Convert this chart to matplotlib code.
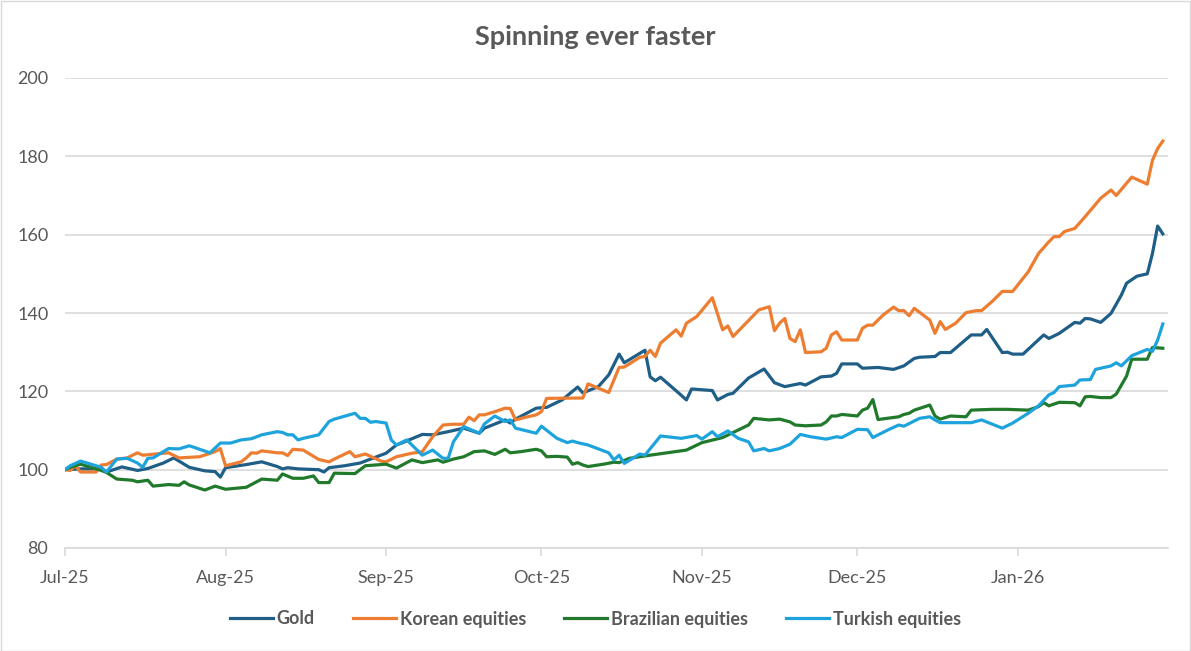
import matplotlib
matplotlib.use("Agg")
import matplotlib.pyplot as plt
import matplotlib.dates as mdates
import pandas as pd
from matplotlib.patches import Rectangle

# x values are days after 1 Jul 2025
start = pd.Timestamp("2025-07-01")

gold_days = [0, 3, 7, 8, 11, 14, 16, 19, 21, 24, 27, 29, 30, 31, 35, 38, 41, 42, 43, 45, 49, 50, 51, 54, 57, 62, 64, 65,
             69, 71, 74, 77, 80, 81, 85, 86, 87, 91, 93, 96, 99, 100, 103, 105, 107, 108, 112, 113, 114, 115, 119, 120,
             121, 125, 126, 128, 129, 132, 135, 137, 139, 142, 143, 146, 148, 149, 150, 153, 154, 157, 160, 162, 164,
             165, 168, 169, 171, 175, 177, 178, 181, 182, 183, 185, 189, 190, 192, 195, 196, 197, 198, 200, 202, 204,
             205, 207, 209, 210, 211, 212]
gold = [100, 100.2, 100.2, 99.4, 100.7, 99.8, 100.3, 101.7, 103, 100.6, 99.7, 99.5, 98.1, 100.5, 101.3, 102, 100.8,
        100.2, 100.5, 100.2, 100, 99.4, 100.5, 101, 101.7, 104.2, 106.3, 106.8,
        109, 108.9, 109.7, 110.6, 109.3, 110.6, 112.7, 111.9, 112.9, 115.7, 115.9, 117.8, 121.1, 119.6, 121.2, 124.2,
        129.5, 127.3, 130.5, 123.7, 122.7, 123.6, 119, 117.8,
        120.6, 120.2, 117.8, 119.2, 119.5, 123.4, 125.7, 122.2, 121.2, 122, 121.6, 123.7, 123.9, 124.6, 127, 127, 125.9,
        126.1, 125.6, 126.5, 128.4,
        128.7, 128.9, 129.9, 129.9, 134.4, 134.4, 135.8, 129.9, 130, 129.5, 129.5, 134.4, 133.5, 134.8, 137.6, 137.4,
        138.6, 138.5, 137.6, 139.9, 144.6,
        147.6, 149.4, 150, 155.2, 162.2, 160.2]

korea_days = [0, 1, 2, 3, 6, 7, 8, 10, 12, 14, 15, 20, 22, 26, 29, 30, 31, 34, 35, 36, 37, 38, 41, 42, 43, 44, 46, 49,
              51, 52, 55, 56, 58, 61, 62, 64, 67, 69, 71, 73, 75, 77, 78, 79, 80, 81, 83, 85, 86, 87, 89, 91, 92, 93,
              100, 101, 105, 107, 108, 111, 112, 113, 114, 115, 118, 119, 120, 122, 125, 127, 128, 129, 134, 136, 137,
              138, 139, 140, 141, 142, 143, 146, 147, 148, 149, 150, 153, 154, 155, 156, 158, 160, 161, 162, 163, 164,
              167, 168, 169, 170, 172, 174, 176, 177, 179, 181, 183, 186, 188, 190, 191, 192, 193, 195, 197, 200, 202,
              203, 206, 209, 210, 211, 212]
korea = [100, 99.8, 101, 99.4, 99.4, 101.2, 101.3, 102.7, 103, 104.3, 103.7, 104.3, 103, 103.3, 104.6, 105.4, 101, 102,
         103, 104.3, 104.2, 104.8, 104.3, 104.3, 103.6, 105.2, 105, 102.6,
         102, 102.7, 104.6, 103.3, 104, 102.2, 102, 103.3, 104.2, 104.6, 108.4, 111.4, 111.6, 111.6, 113.4, 112.5, 114,
         114, 114.8, 115.7, 115.6, 112.7, 113.4, 114, 114.8, 118.2,
         118.3, 121.9, 119.7, 126.1, 126.2, 128.7, 128.9, 130.5, 128.9, 132.3, 135.7, 134.1, 137.4, 139.1, 143.9, 135.7,
         136.7, 134, 140.8, 141.6, 135.5,
         137.4, 138.6, 133.5, 132.7, 135.7, 129.9, 130.1, 131, 134.4, 135.2, 133.1, 133.1, 136.1, 136.9, 136.9, 139.5,
         141.5, 140.6, 140.6, 139.3, 141.2,
         138.2, 134.8, 137.8, 135.8, 137.4, 140.1, 140.6, 140.6, 142.9, 145.5, 145.5, 150.5, 155.2, 158.2, 159.5, 159.5,
         160.8, 161.6, 164.6, 169.3, 171.4,
         170, 174.7, 172.9, 179, 182, 183.9]

brazil_days = [0, 1, 3, 7, 8, 10, 13, 14, 16, 17, 20, 22, 23, 24, 27, 29, 31, 35, 38, 41, 42, 44, 46, 48, 49, 51, 52, 56,
               58, 62, 64, 67, 69, 72, 73, 75, 77, 79, 81, 83, 85, 86, 88, 91, 92, 93, 95, 97, 98, 99, 100, 101, 104,
               106, 107, 109, 113, 120, 123, 127, 132, 133, 136, 138, 140, 141, 143, 146, 147, 148, 149, 150, 153, 154,
               155, 156, 157, 161, 162, 163, 164, 167, 168, 169, 171, 174, 175, 179, 182, 186, 188, 189, 190, 192, 195,
               196, 197, 198, 200, 202, 203, 205, 206, 209, 210, 212]
brazil = [100, 100.6, 101.4, 99.8, 99.3, 97.6, 97.3, 96.9, 97.3, 95.8, 96.2, 96, 96.9, 96.1, 94.8, 95.8, 95, 95.5, 97.6,
          97.3, 98.9, 97.8, 97.8, 98.4, 96.7, 96.7, 99.1, 99,
          101, 101.4, 100.4, 102.5, 101.8, 102.5, 101.9, 102.7, 103.3, 104.6, 104.8, 103.9, 105.2, 104.3, 104.6, 105.2,
          104.8, 103.3, 103.4, 103.2, 101.4, 101.8, 101.2, 100.8, 101.4,
          101.9, 101.8, 102.9, 103.7, 105, 106.9, 108.2, 111.4, 113.1, 112.7, 112.9, 112.2, 111.4, 111.2, 111.4, 112.2,
          113.7, 113.7, 114.1, 113.7, 115.2,
          115.7, 117.9, 112.8, 113.5, 114.1, 114.4, 115.2, 116.5, 113.7, 112.9, 113.7, 113.5, 115.2, 115.4, 115.4, 115.2,
          116.1, 117.1, 116.3, 117.2, 117.1,
          116.3, 118.6, 118.7, 118.4, 118.4, 119.3, 123.9, 128.2, 128.2, 131.2, 131]

turkey_days = [0, 1, 3, 7, 8, 10, 12, 14, 15, 16, 17, 20, 22, 24, 28, 30, 32, 34, 36, 38, 41, 42, 43, 44, 45, 46, 49, 51,
               52, 56, 57, 58, 59, 60, 62, 63, 64, 66, 69, 71, 73, 74, 75, 77, 80, 81, 83, 85, 86, 87, 91, 92, 95, 97,
               98, 99, 101, 105, 106, 107, 108, 111, 112, 115, 119, 122, 123, 125, 126, 128, 130, 132, 133, 135, 136,
               138, 140, 142, 144, 147, 149, 150, 153, 155, 156, 159, 161, 162, 165, 167, 168, 169, 175, 177, 181, 183,
               186, 188, 190, 191, 192, 195, 196, 198, 199, 202, 203, 204, 206, 209, 210, 211, 212]
turkey = [100, 101, 102.2, 100.6, 99.4, 102.7, 102.9, 101.7, 100.6, 102.9, 103, 105.4, 105.3, 106.1, 104.3, 106.8, 106.8,
          107.6, 107.9, 108.9, 109.7, 109.5, 108.9, 108.9, 107.6, 108, 108.9, 112.3,
          112.9, 114.4, 113.1, 113.1, 112.1, 112.3, 111.9, 107.6, 106.3, 107.6, 103.7, 105, 102.9, 102.9, 107.1, 111,
          109.3, 111.7, 113.7, 112.3, 112.7, 110.6, 109.3, 111.1, 108, 106.9,
          107.3, 106.9, 106.3, 104.3, 102.5, 103.7, 101.6, 104, 103.7, 108.6, 108, 108.7, 107.8, 109.7, 108.4, 109.9, 108,
          107.1, 104.8, 105.4, 104.8,
          105.4, 106.5, 109, 108.4, 107.8, 108.4, 108.2, 110.3, 110.2, 108.2, 110.2, 111.4, 111.1, 113.1, 113.5, 112.7,
          112, 112, 112.7, 110.6, 111.9,
          114.4, 116.3, 119.1, 119.7, 121.2, 121.6, 122.9, 123, 125.6, 126.5, 127.3, 126.5, 129.1, 130.7, 130.2, 133.1,
          137.2]

series = [
    ("Gold", gold_days, gold, "#1f5f87"),
    ("Korean equities", korea_days, korea, "#ed7d31"),
    ("Brazilian equities", brazil_days, brazil, "#217a2c"),
    ("Turkish equities", turkey_days, turkey, "#1ea3dd"),
]

grey = "#595959"
plt.rcParams["font.family"] = ["Lato", "DejaVu Sans"]

fig = plt.figure(figsize=(11.91, 6.51), dpi=100)
ax = fig.add_axes([65 / 1191, 1 - 548 / 651, (1168 - 65) / 1191, 470 / 651])

for name, days, vals, col in series:
    dates = start + pd.to_timedelta(days, unit="D")
    ax.plot(dates, vals, color=col, lw=2.3, label=name, solid_joinstyle="round")

ax.set_ylim(80, 200)
ax.set_yticks(range(80, 201, 20))
ax.set_xlim(start, start + pd.Timedelta(days=213))
ax.xaxis.set_major_locator(mdates.MonthLocator())
ax.xaxis.set_major_formatter(mdates.DateFormatter("%b-%y"))

ax.grid(axis="y", color="#d9d9d9", lw=1.2)
ax.set_axisbelow(True)
for s in ["left", "right", "top"]:
    ax.spines[s].set_visible(False)
ax.spines["bottom"].set_color("#d9d9d9")
ax.spines["bottom"].set_linewidth(1.2)
ax.tick_params(axis="y", length=0, pad=12, labelsize=13, labelcolor=grey)
ax.tick_params(axis="x", length=6, width=1.2, color="#d9d9d9", pad=10, labelsize=13, labelcolor=grey)

fig.suptitle("Spinning ever faster", x=0.5, y=1 - 37 / 651, va="center",
             fontsize=19.5, fontweight="bold", color=grey)

leg = fig.legend(loc="center", bbox_to_anchor=(0.5, 1 - 619 / 651), ncol=4, frameon=False,
                 handlelength=2.4, handletextpad=0.2, columnspacing=2.1,
                 prop={"size": 13, "weight": "bold"})
for t in leg.get_texts():
    t.set_color(grey)

# light chart border like the spreadsheet chart area
fig.add_artist(Rectangle((0.5 / 1191, 0.5 / 651), 1 - 1.5 / 1191, 1 - 1.5 / 651, transform=fig.transFigure,
                         fill=False, ec="#d9d9d9", lw=1))

plt.savefig("out.png", dpi=100)
